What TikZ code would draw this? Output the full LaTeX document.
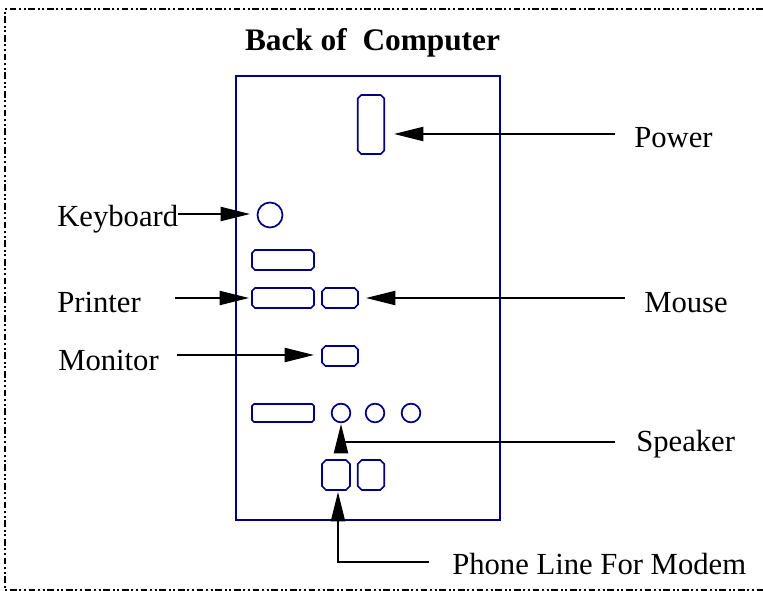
\documentclass[tikz,border=0pt]{standalone}
\usepackage{fontspec}
\setmainfont{Liberation Serif}
\usetikzlibrary{arrows.meta}
\definecolor{portblue}{RGB}{0,0,128}
\tikzset{
  x=0.75pt,y=-0.75pt,
  port/.style={rectangle,inner sep=0pt,outer sep=0pt},
  portedge/.style={draw=portblue,line width=1.3pt,line join=round},
  jack/.style={draw=portblue,line width=1.3pt,circle,inner sep=0pt,outer sep=0pt,minimum size=#1},
  label/.style={font=\fontsize{23}{26}\selectfont,inner sep=0pt,anchor=base west},
  lead/.style={draw=black,line width=1.5pt,-{Triangle[length=22pt,width=10.5pt,black]}},
}
\newcommand{\portbox}[6]{%
  \node[port,minimum width=#4*0.75pt,minimum height=#5*0.75pt] (#1) at (#2,#3) {};
  \draw[portedge] ([xshift=#6*0.75pt]#1.north west) -- ([xshift=-#6*0.75pt]#1.north east)
    -- ([yshift=-#6*0.75pt]#1.north east) -- ([yshift=#6*0.75pt]#1.south east)
    -- ([xshift=-#6*0.75pt]#1.south east) -- ([xshift=#6*0.75pt]#1.south west)
    -- ([yshift=#6*0.75pt]#1.south west) -- ([yshift=-#6*0.75pt]#1.north west) -- cycle;
}
\begin{document}
\begin{tikzpicture}
\useasboundingbox (0,0) rectangle (763,591);
\draw[line width=1.5pt,dash pattern=on 5pt off 2pt on 1.5pt off 2pt on 1.5pt off 2pt] (763,9) -- (5,9) -- (5,590) -- (763,590);
\node[font=\fontsize{23.5}{26}\selectfont\bfseries,inner sep=0pt,anchor=base] (title) at (372.5,51) {Back of\ \ Computer};
\draw[portblue,line width=1.5pt] (236,76) rectangle (500,520);
\portbox{power}{371}{124.5}{26.5}{59}{3.5}
\portbox{spare}{283}{260}{62}{20}{3}
\portbox{printer}{283}{298}{62}{20}{3}
\portbox{mouse}{340}{298}{36}{20}{3.5}
\portbox{monitor}{340}{356}{36}{20}{3.5}
\portbox{serial}{283}{413}{62}{18}{2}
\portbox{modem}{336}{475}{28}{30}{4}
\portbox{modemb}{371}{475}{26.5}{30}{4}
\node[jack=18.75pt] (kb) at (270,215) {};
\node[jack=14pt] (spk) at (341,413) {};
\node[jack=14pt] (jb) at (375,413) {};
\node[jack=14pt] (jc) at (411,413) {};
\node[label] (lpower) at (634,148) {Power};
\node[label] (lkb) at (57,227) {Keyboard};
\node[label] (lprinter) at (57,312) {Printer};
\node[label] (lmouse) at (644,312) {Mouse};
\node[label] (lmonitor) at (58,370) {Monitor};
\node[label] (lspeaker) at (636,451) {Speaker};
\node[label] (lphone) at (452,574) {Phone Line For Modem};
\coordinate (apower) at (615,134);
\coordinate (tpower) at (394,134);
\coordinate (akb) at (178,214);
\coordinate (tkb) at (250,214);
\coordinate (aprinter) at (175,298);
\coordinate (tprinter) at (249,298);
\coordinate (amouse) at (625,298);
\coordinate (tmouse) at (366,298);
\coordinate (amonitor) at (177,355);
\coordinate (tmonitor) at (314,355);
\coordinate (aspeaker) at (615,442);
\coordinate (tspeaker) at (341,424);
\coordinate (aphone) at (429,562);
\coordinate (tphone) at (338,492);
\draw[lead] (apower) -- (tpower);
\draw[lead] (akb) -- (tkb);
\draw[lead] (aprinter) -- (tprinter);
\draw[lead] (amouse) -- (tmouse);
\draw[lead] (amonitor) -- (tmonitor);
\draw[lead] (aspeaker) -| (tspeaker);
\draw[lead] (aphone) -| (tphone);
\end{tikzpicture}
\end{document}
